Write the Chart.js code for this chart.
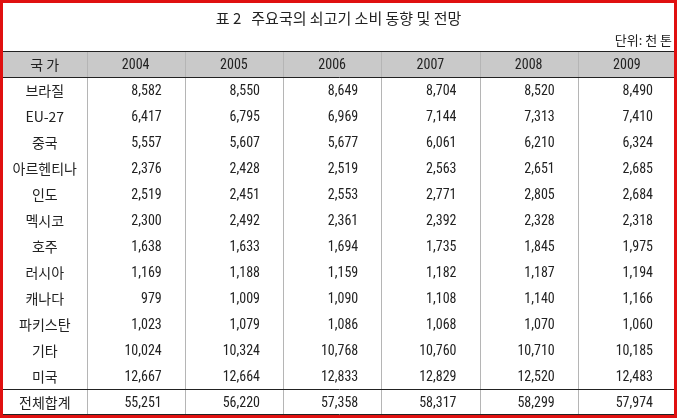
<!DOCTYPE html>
<html>
<head>
<meta charset="utf-8">
<script src="https://cdn.jsdelivr.net/npm/chart.js@4"></script>
<style>
  html, body { margin: 0; padding: 0; background: #fff; }
  #wrap { width: 677px; height: 418px; position: relative; }
</style>
</head>
<body>
<div id="wrap"><canvas id="tbl"></canvas></div>
<script>
const title = "표 2   주요국의 쇠고기 소비 동향 및 전망";
const unit = "단위: 천 톤";
const header = ["국 가", "2004", "2005", "2006", "2007", "2008", "2009"];
const countries = ["브라질", "EU-27", "중국", "아르헨티나", "인도", "멕시코", "호주", "러시아", "캐나다", "파키스탄", "기타", "미국", "전체합계"];
const v2004 = [8582, 6417, 5557, 2376, 2519, 2300, 1638, 1169, 979, 1023, 10024, 12667, 55251];
const v2005 = [8550, 6795, 5607, 2428, 2451, 2492, 1633, 1188, 1009, 1079, 10324, 12664, 56220];
const v2006 = [8649, 6969, 5677, 2519, 2553, 2361, 1694, 1159, 1090, 1086, 10768, 12833, 57358];
const v2007 = [8704, 7144, 6061, 2563, 2771, 2392, 1735, 1182, 1108, 1068, 10760, 12829, 58317];
const v2008 = [8520, 7313, 6210, 2651, 2805, 2328, 1845, 1187, 1140, 1070, 10710, 12520, 58299];
const v2009 = [8490, 7410, 6324, 2685, 2684, 2318, 1975, 1194, 1166, 1060, 10185, 12483, 57974];
const years = [v2004, v2005, v2006, v2007, v2008, v2009];

// column widths in x-scale units (first column narrower)
const colWeights = [0.85, 1, 1, 1, 1, 1, 1];
const colEdges = colWeights.reduce((a, w) => { a.push(a[a.length - 1] + w); return a; }, [0]);

const KR = '"Noto Sans CJK KR", "Noto Sans", sans-serif';
const NUM = '"Liberation Sans Narrow", "Roboto Condensed", "Liberation Sans", sans-serif';

const tablePlugin = {
    id: "tablePlugin",
    afterDraw(chart) {
        const ctx = chart.ctx;
        const xs = chart.scales.x, ys = chart.scales.y;
        const area = chart.chartArea;
        const rowLabels = ys.getLabels();
        const half = (ys.getPixelForValue(1) - ys.getPixelForValue(0)) / 2;
        const edgeX = colEdges.map(e => xs.getPixelForValue(e));

        ctx.save();
        // header background
        const hTop = ys.getPixelForValue(0) - half, hBot = ys.getPixelForValue(0) + half;
        ctx.fillStyle = "#c9c9c9";
        ctx.fillRect(area.left, hTop, area.right - area.left, hBot - hTop);

        // vertical lines
        ctx.strokeStyle = "#b5b5b5";
        ctx.lineWidth = 1;
        edgeX.slice(1, -1).forEach(x => {
            ctx.beginPath();
            ctx.moveTo(Math.round(x) + 0.5, hTop);
            ctx.lineTo(Math.round(x) + 0.5, area.bottom);
            ctx.stroke();
        });

        // horizontal rules
        ctx.strokeStyle = "#222";
        const rule = y => { ctx.beginPath(); ctx.moveTo(area.left, Math.round(y) + 0.5); ctx.lineTo(area.right, Math.round(y) + 0.5); ctx.stroke(); };
        rule(hTop);
        rule(hBot);
        const last = rowLabels.length - 1;
        rule(ys.getPixelForValue(last) - half);
        rule(area.bottom - 1);

        // header text
        ctx.fillStyle = "#222";
        ctx.textBaseline = "middle";
        ctx.textAlign = "center";
        header.forEach((h, i) => {
            ctx.font = i === 0 ? "14px " + KR : "14px " + NUM;
            ctx.fillText(h, (edgeX[i] + edgeX[i + 1]) / 2, ys.getPixelForValue(0) + 1);
        });

        // body
        countries.forEach((c, r) => {
            const y = ys.getPixelForValue(r + 1) + 1;
            ctx.textAlign = "center";
            ctx.font = "14px " + KR;
            ctx.fillText(c, (edgeX[0] + edgeX[1]) / 2, y);
            ctx.textAlign = "right";
            ctx.font = "14px " + NUM;
            years.forEach((arr, i) => {
                ctx.fillText(arr[r].toLocaleString("en-US"), edgeX[i + 2] - 23, y);
            });
        });

        // title and unit
        ctx.textAlign = "center";
        ctx.font = "15px " + KR;
        ctx.fillText(title, chart.width / 2, 18);
        ctx.textAlign = "right";
        ctx.font = "13px " + KR;
        ctx.fillText(unit, area.right - 4, 40);

        // red frame
        ctx.strokeStyle = "#e01010";
        ctx.lineWidth = 3;
        ctx.strokeRect(1.5, 1.5, chart.width - 3, chart.height - 3);
        ctx.restore();
    }
};

new Chart(document.getElementById("tbl"), {
    type: "scatter",
    data: { labels: [header[0]].concat(countries), datasets: [{ data: [] }] },
    options: {
        responsive: true,
        maintainAspectRatio: false,
        animation: false,
        layout: { padding: { left: 3, right: 1, top: 51, bottom: 3 } },
        plugins: { legend: { display: false }, tooltip: { enabled: false } },
        scales: {
            x: { type: "linear", min: 0, max: colEdges[colEdges.length - 1], offset: false, display: false },
            y: { type: "category", offset: true, display: false }
        }
    },
    plugins: [tablePlugin]
});
</script>
</body>
</html>
